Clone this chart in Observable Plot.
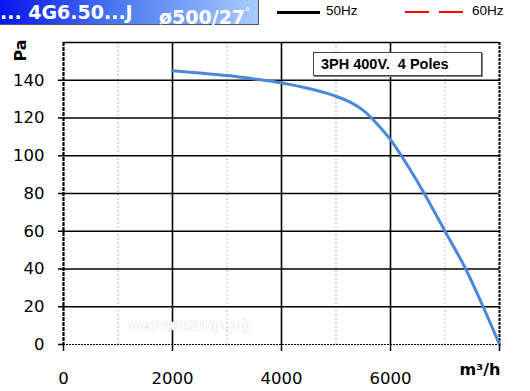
<!DOCTYPE html>
<html>
<head>
<meta charset="utf-8">
<script src="https://cdn.jsdelivr.net/npm/d3@7"></script>
<script src="https://cdn.jsdelivr.net/npm/@observablehq/plot@0.6"></script>
<style>
  html, body { margin: 0; padding: 0; background: #fff; }
  #wrap { position: relative; width: 530px; height: 391px; overflow: hidden; font-family: "Liberation Sans", Arial, sans-serif; }
  #wrap svg { position: absolute; left: 0; top: 0; }
  .hdr { position: absolute; left: 0; top: 0; width: 258px; height: 24px;
         background: linear-gradient(to right, #0a14f0 0%, #4a78f0 45%, #a8ccff 100%);
         border-right: 1px solid #555; border-bottom: 1px solid #555; }
  .hdr span { position: absolute; top: -1px; color: #fff; font-weight: bold; font-size: 19px; line-height: 26px; white-space: nowrap; font-family: "DejaVu Sans", sans-serif; }
</style>
</head>
<body>
<div id="wrap">
</div>
<script>
// Data
const flow = [2000, 2500, 3000, 3500, 4000, 4500, 5000, 5250, 5500, 5750, 6000, 6200, 6640, 7000, 7380, 7700, 8000];
const pressure = [145, 143.8, 142.5, 140.7, 138.6, 135.6, 131.5, 128.5, 124, 117, 108.5, 100, 79, 60, 40, 20, 0];
const yTicks = [0, 20, 40, 60, 80, 100, 120, 140];
const xTicks = [0, 2000, 4000, 6000, 8000];
const xMajor = [2000, 4000, 6000];
const xMinor = [1000, 3000, 5000, 7000];
const hGrid = [20, 40, 60, 80, 100, 120, 140, 160];
const title1 = "... 4G6.50...J";
const title2 = "ø500/27°";
const legend50 = "50Hz";
const legend60 = "60Hz";
const boxText = "3PH 400V.  4 Poles";
const yLabel = "Pa";
const xLabel = "m³/h";
const watermark = "вентилятор.рф";

const data = flow.map((q, i) => ({q, p: pressure[i]}));

const chart = Plot.plot({
  width: 530,
  height: 391,
  marginLeft: 63,
  marginRight: 31,
  marginTop: 42,
  marginBottom: 47,
  style: {fontFamily: "Liberation Sans, Arial, sans-serif", background: "transparent", overflow: "visible"},
  x: {domain: [0, 8000]},
  y: {domain: [0, 160]},
  marks: [
    Plot.ruleX(xMinor, {stroke: "#bbb", strokeWidth: 1, strokeDasharray: "2,2"}),
    Plot.ruleY(hGrid, {stroke: "#000", strokeWidth: 1.3}),
    Plot.ruleX(xMajor, {stroke: "#000", strokeWidth: 1.6}),
    Plot.ruleY([0], {stroke: "#000", strokeWidth: 1.2, strokeDasharray: "2,1"}),
    Plot.ruleX([8000], {stroke: "#000", strokeWidth: 2, strokeDasharray: "3,1"}),
    Plot.ruleX([0], {stroke: "#000", strokeWidth: 2.2, strokeDasharray: "4,1"}),
    Plot.text([watermark], {x: 2330, y: 10, text: d => d, fill: "#fff", stroke: "#d0d0d0", strokeWidth: 0.7, fontSize: 14, fontWeight: "bold", fontFamily: "DejaVu Sans"}),
    Plot.line(data, {x: "q", y: "p", stroke: "#4a88dc", strokeWidth: 3, curve: "monotone-x"}),
    Plot.axisY(yTicks, {tickSize: 5, tickPadding: 14, fontSize: 16.5, fontFamily: "DejaVu Sans", stroke: "#000", strokeWidth: 1.5, color: "#000", label: null}),
    Plot.axisX(xTicks, {tickSize: 7, tickPadding: 21, fontSize: 16.5, fontFamily: "DejaVu Sans", stroke: "#000", strokeWidth: 1.5, label: null, tickFormat: d => d === 8000 ? "" : String(d)}),
    Plot.text([yLabel], {frameAnchor: "top-left", dx: -49, dy: 19, text: d => d, rotate: -90, fontSize: 16, fontWeight: "bold", fontFamily: "DejaVu Sans", fill: "#000"}),
    Plot.text([xLabel], {frameAnchor: "bottom-right", dx: 1, dy: 30, text: d => d, fontSize: 16, fontWeight: "bold", fontFamily: "DejaVu Sans", fill: "#000", textAnchor: "end"})
  ]
});
const wrap = document.getElementById("wrap");
wrap.appendChild(chart);

// Header, legend and note box as overlays
const hdr = document.createElement("div");
hdr.className = "hdr";
hdr.innerHTML = `<span style="left:0px">${title1}</span><span style="left:159px">${title2.replace("°", "<sup style='font-size:10px;vertical-align:9px'>°</sup>")}</span>`;
wrap.appendChild(hdr);

function el(html, css) { const d = document.createElement("div"); d.style.cssText = css; d.innerHTML = html; wrap.appendChild(d); return d; }
el("", "position:absolute;left:277px;top:11px;width:43px;height:2.5px;background:#000;");
el(legend50, "position:absolute;left:326px;top:3px;font-size:13.5px;");
el("", "position:absolute;left:405px;top:10.5px;width:24px;height:2.5px;background:#f00;");
el("", "position:absolute;left:439px;top:10.5px;width:24px;height:2.5px;background:#f00;");
el(legend60, "position:absolute;left:472px;top:3px;font-size:13.5px;");
el(boxText, "position:absolute;left:313px;top:52px;width:169px;height:24px;border:1px solid #444;background:#fff;font-weight:bold;font-size:14.5px;line-height:22px;padding-left:7px;box-sizing:border-box;white-space:pre;box-shadow:1px 1px 0 #888;");
</script>
</body>
</html>
